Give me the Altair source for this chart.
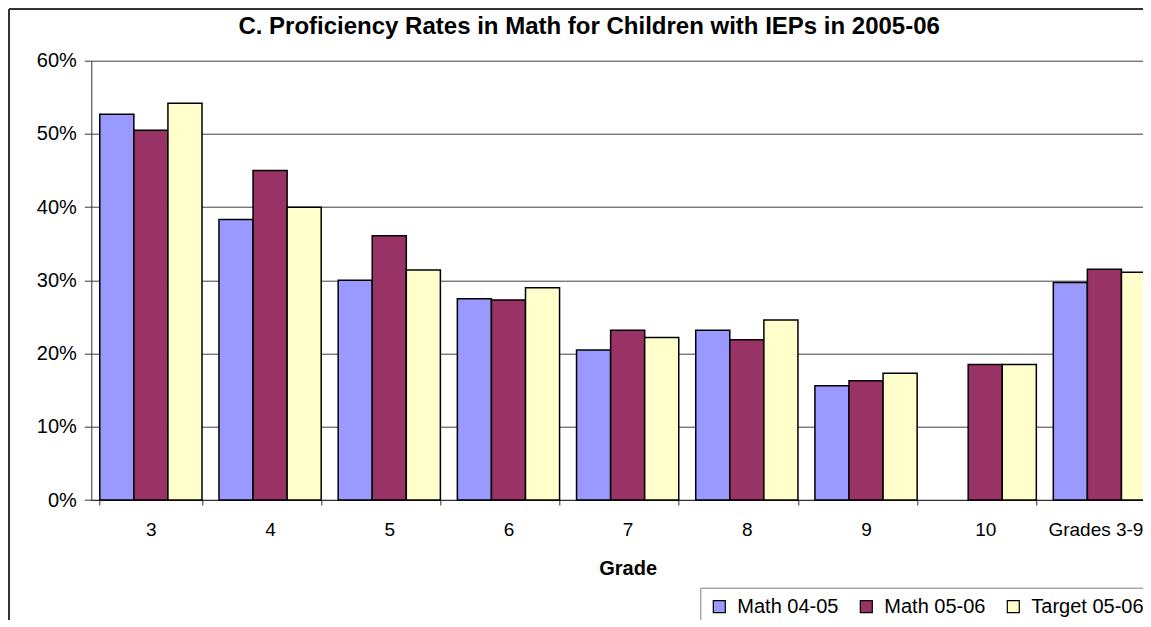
import altair as alt
import pandas as pd

# ---- data ----
grades = ["3", "4", "5", "6", "7", "8", "9", "10", "Grades 3-9"]
series = ["Math 04-05", "Math 05-06", "Target 05-06"]
math_0405 = [52.7, 38.3, 30.0, 27.5, 20.5, 23.2, 15.6, None, 29.7]
math_0506 = [50.5, 45.0, 36.1, 27.3, 23.2, 21.9, 16.3, 18.5, 31.5]
target_0506 = [54.2, 40.0, 31.4, 29.0, 22.2, 24.6, 17.3, 18.5, 31.1]
colors = ["#9999FF", "#993366", "#FFFFCC"]
y_ticks = [0, 0.1, 0.2, 0.3, 0.4, 0.5, 0.6]

rows = []
for s, vals in zip(series, [math_0405, math_0506, target_0506]):
    for g, v in zip(grades, vals):
        if v is not None:
            rows.append({"Grade": g, "Series": s, "Rate": v / 100.0})
df = pd.DataFrame(rows)

FONT = "Liberation Sans"
PAD_L, PAD_T = 83.3, 52.7
PLOT_H = 439.3
SVG_W, SVG_H = 1135, 612
PLOT_W = SVG_W - PAD_L          # visible plot width
RANGE_W = 1072.7                # full category range (last group is cut off)

# chart-area border: only the left and top edges are visible in the reference
frame_df = pd.DataFrame({"k": [0]})
frame_left = alt.Chart(frame_df).mark_rule(color="#333333", strokeWidth=2).encode(
    x=alt.value(-PAD_L + 1), y=alt.value(-PAD_T + 1), y2=alt.value(2000),
)
frame_top = alt.Chart(frame_df).mark_rule(color="#333333", strokeWidth=2).encode(
    x=alt.value(-PAD_L + 1), x2=alt.value(2000), y=alt.value(-PAD_T + 1),
)

bars = alt.Chart(df).mark_bar(stroke="black", strokeWidth=1.5).encode(
    x=alt.X(
        "Grade:N", sort=grades,
        scale=alt.Scale(range=[0, RANGE_W], paddingInner=0.1424, paddingOuter=0.0712),
        axis=alt.Axis(
            title="Grade", labelAngle=0, tickBand="extent", tickSize=5,
            labelPadding=15, labelFontSize=19, labelColor="black", labelFont=FONT,
            labelOffset={"condition": {"test": "datum.value == 'Grades 3-9'", "value": -9},
                         "value": 0},
            domainColor="#333333", tickColor="#333333",
            titleFont=FONT, titleFontSize=20, titleFontWeight="bold", titleColor="black",
            titleX=RANGE_W / 2, titleY=74, titleBaseline="alphabetic",
        ),
    ),
    xOffset=alt.XOffset("Series:N", sort=series,
                        scale=alt.Scale(paddingInner=0, paddingOuter=0)),
    y=alt.Y(
        "Rate:Q",
        scale=alt.Scale(domain=[0, 0.6], nice=False),
        axis=alt.Axis(
            title=None, values=y_ticks, format=".0%", grid=True,
            gridColor="#404040", gridWidth=1, domainColor="#333333",
            tickColor="#333333", tickSize=7, labelPadding=8,
            labelFontSize=20, labelColor="black", labelFont=FONT,
        ),
    ),
    color=alt.Color(
        "Series:N", sort=series,
        scale=alt.Scale(domain=series, range=colors),
        legend=alt.Legend(
            title=None, orient="none", legendX=609, legendY=527,
            direction="horizontal", symbolType="square", symbolSize=144,
            symbolStrokeColor="black", symbolStrokeWidth=1.2,
            labelFont=FONT, labelFontSize=20, labelColor="black",
            labelOffset=8, columnPadding=17, padding=9,
            strokeColor="#808080", fillColor="white",
        ),
    ),
)

chart = alt.layer(frame_left, frame_top, bars).properties(
    width=PLOT_W, height=PLOT_H,
    padding={"left": PAD_L, "top": PAD_T, "right": 0, "bottom": SVG_H - PAD_T - PLOT_H},
    autosize=alt.AutoSizeParams(type="none"),
    title=alt.TitleParams(
        "C. Proficiency Rates in Math for Children with IEPs in 2005-06",
        font=FONT, fontSize=24, fontWeight="bold", color="black",
        anchor="middle", dx=-28, offset=0, dy=50, baseline="alphabetic",
    ),
).configure(font=FONT).configure_view(stroke=None)

chart.save("out.html", embed_options={"renderer": "svg", "actions": False})
